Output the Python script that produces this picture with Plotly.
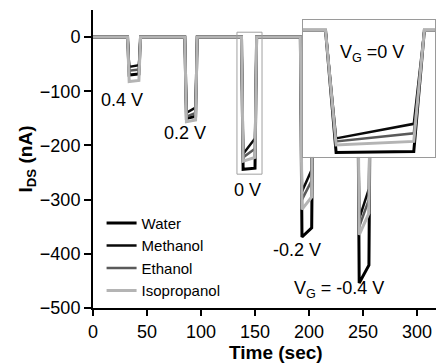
import plotly.graph_objects as go

# ---------------- data ----------------
series_names = ["Water", "Methanol", "Ethanol", "Isopropanol"]
series_colors = ["#000000", "#0a0a0a", "#5a5a5a", "#b4b4b4"]
series_widths = [3, 2.5, 2.5, 3]

gate_labels = ["0.4 V", "0.2 V", "0 V", "-0.2 V", "V<sub>G</sub> = -0.4 V"]

# pulse timing (s): drop start, drop end, rise start, rise end
drop_start = [32.0, 85.0, 137.5, 192.0, 245.0]
drop_end   = [33.5, 86.5, 139.0, 193.5, 246.5]
rise_start = [42.5, 95.0, 150.0, 202.5, 255.5]
rise_end   = [44.0, 96.5, 151.5, 204.0, 257.0]
t_start = 0.0
t_stop = 300.0
baseline = 0.0

# current at start / end of each pulse bottom (nA)
water_start       = [-70, -150, -244, -369, -454]
water_end         = [-68, -146, -242, -352, -421]
methanol_start    = [-55, -140, -216, -285, -335]
methanol_end      = [-52, -130, -187, -245, -280]
ethanol_start     = [-62, -147, -222, -300, -350]
ethanol_end       = [-60, -140, -206, -265, -300]
isopropanol_start = [-82, -156, -229, -318, -365]
isopropanol_end   = [-80, -153, -222, -295, -325]

starts = [water_start, methanol_start, ethanol_start, isopropanol_start]
ends = [water_end, methanol_end, ethanol_end, isopropanol_end]

# label anchor positions (data units)
label_t = [27, 85, 143.5, 189, 228]
label_i = [-116, -177, -282, -393, -465]

# zoom box (main axes) and inset ranges
box_t = [133.3, 156.5]
box_i = [-253, 9]
inset_t = [134.3, 153.0]
inset_i = [-253, 20]

x_ticks = [0, 50, 100, 150, 200, 250, 300]
y_ticks = [0, -100, -200, -300, -400, -500]

FONT = "Liberation Sans, Arial, sans-serif"


def build(si):
    xs, ys = [t_start], [baseline]
    for k in range(len(drop_start)):
        xs += [drop_start[k], drop_end[k], rise_start[k], rise_end[k]]
        ys += [baseline, starts[si][k], ends[si][k], baseline]
    xs.append(t_stop)
    ys.append(baseline)
    return xs, ys


fig = go.Figure()
for i, name in enumerate(series_names):
    xs, ys = build(i)
    fig.add_trace(go.Scatter(x=xs, y=ys, mode="lines", name=name,
                             line=dict(color=series_colors[i], width=series_widths[i]),
                             xaxis="x", yaxis="y"))
for i, name in enumerate(series_names):
    xs, ys = build(i)
    fig.add_trace(go.Scatter(x=xs, y=ys, mode="lines", name=name, showlegend=False,
                             line=dict(color=series_colors[i], width=series_widths[i]),
                             xaxis="x2", yaxis="y2"))

for k, txt in enumerate(gate_labels):
    fig.add_annotation(x=label_t[k], y=label_i[k], xref="x", yref="y", text=txt,
                       showarrow=False, font=dict(size=18, color="black", family=FONT))

fig.add_annotation(x=144.1, y=-46, xref="x2", yref="y2", text="V<sub>G</sub> =0 V",
                   showarrow=False, font=dict(size=18, color="black", family=FONT))

fig.add_shape(type="rect", xref="x", yref="y", x0=box_t[0], x1=box_t[1],
              y0=box_i[0], y1=box_i[1], line=dict(color="#a0a0a0", width=1))

fig.add_annotation(x=0.534, y=-0.151, xref="paper", yref="paper", yanchor="middle",
                   text="<b>Time (sec)</b>", showarrow=False,
                   font=dict(size=19, color="black", family=FONT))

fig.update_layout(
    width=440, height=364,
    margin=dict(l=93, r=4, t=10, b=56),
    paper_bgcolor="white", plot_bgcolor="white",
    font=dict(family=FONT, color="black", size=18),
    xaxis=dict(range=[0, 317.6], tickvals=x_ticks, ticks="outside", ticklen=6,
               tickwidth=2, tickcolor="black", showline=True, linecolor="black",
               linewidth=2, showgrid=False, zeroline=False,
               tickfont=dict(size=18, family=FONT)),
    yaxis=dict(range=[-500, 50], tickvals=y_ticks, ticks="outside", ticklen=7,
               tickwidth=2, tickcolor="black", showline=True, linecolor="black",
               linewidth=2, showgrid=False, zeroline=False,
               tickfont=dict(size=18, family=FONT),
               title=dict(text="<b>I<sub>DS</sub> (nA)</b>", font=dict(size=19, family=FONT),
                          standoff=2)),
    xaxis2=dict(domain=[0.612, 0.997], anchor="y2", range=inset_t, showline=True,
                mirror=True, linecolor="#9a9a9a", linewidth=1, showticklabels=False,
                ticks="", showgrid=False, zeroline=False),
    yaxis2=dict(domain=[0.507, 0.966], anchor="x2", range=inset_i, showline=True,
                mirror=True, linecolor="#9a9a9a", linewidth=1, showticklabels=False,
                ticks="", showgrid=False, zeroline=False),
    legend=dict(x=0.025, y=0.34, xanchor="left", yanchor="top",
                bgcolor="rgba(0,0,0,0)", font=dict(size=15, family=FONT),
                tracegroupgap=0),
    showlegend=True,
)

fig.write_html("out.html")
